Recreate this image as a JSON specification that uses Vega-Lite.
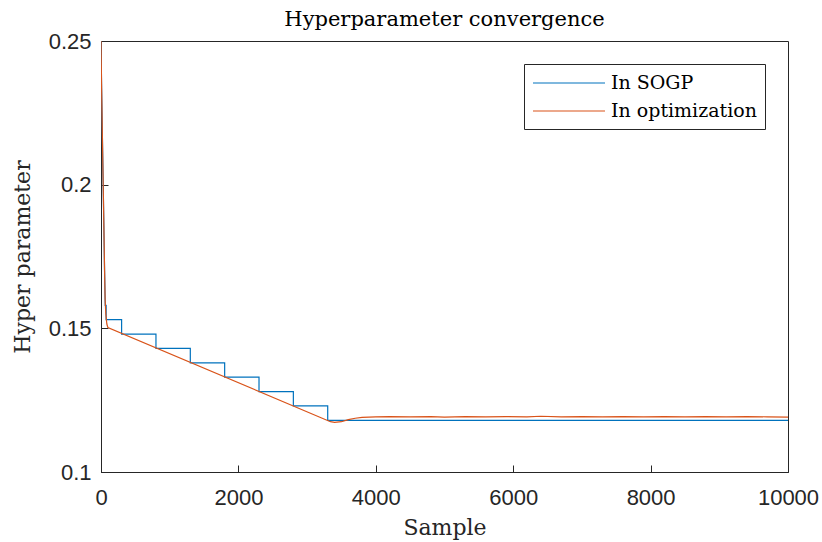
{
  "$schema": "https://vega.github.io/schema/vega-lite/v6.json",
  "width": 687,
  "height": 431,
  "autosize": {"type": "none"},
  "padding": {"left": 101, "top": 41, "right": 34, "bottom": 70},
  "background": "white",
  "title": {
    "text": "Hyperparameter convergence",
    "font": "DejaVu Serif",
    "fontSize": 21,
    "fontWeight": "normal",
    "color": "#000000",
    "anchor": "middle",
    "offset": 0
  },
  "data": {
    "values": [
      {"series": "In SOGP", "i": 0, "sample": 0, "value": 0.25},
      {"series": "In SOGP", "i": 1, "sample": 8, "value": 0.235},
      {"series": "In SOGP", "i": 2, "sample": 18, "value": 0.22},
      {"series": "In SOGP", "i": 3, "sample": 32, "value": 0.2},
      {"series": "In SOGP", "i": 4, "sample": 42, "value": 0.185},
      {"series": "In SOGP", "i": 5, "sample": 52, "value": 0.17},
      {"series": "In SOGP", "i": 6, "sample": 60, "value": 0.16},
      {"series": "In SOGP", "i": 7, "sample": 62, "value": 0.158},
      {"series": "In SOGP", "i": 8, "sample": 75, "value": 0.158},
      {"series": "In SOGP", "i": 9, "sample": 75, "value": 0.153},
      {"series": "In SOGP", "i": 10, "sample": 300, "value": 0.153},
      {"series": "In SOGP", "i": 11, "sample": 300, "value": 0.148},
      {"series": "In SOGP", "i": 12, "sample": 800, "value": 0.148},
      {"series": "In SOGP", "i": 13, "sample": 800, "value": 0.143},
      {"series": "In SOGP", "i": 14, "sample": 1300, "value": 0.143},
      {"series": "In SOGP", "i": 15, "sample": 1300, "value": 0.138},
      {"series": "In SOGP", "i": 16, "sample": 1800, "value": 0.138},
      {"series": "In SOGP", "i": 17, "sample": 1800, "value": 0.133},
      {"series": "In SOGP", "i": 18, "sample": 2300, "value": 0.133},
      {"series": "In SOGP", "i": 19, "sample": 2300, "value": 0.128},
      {"series": "In SOGP", "i": 20, "sample": 2800, "value": 0.128},
      {"series": "In SOGP", "i": 21, "sample": 2800, "value": 0.123},
      {"series": "In SOGP", "i": 22, "sample": 3300, "value": 0.123},
      {"series": "In SOGP", "i": 23, "sample": 3300, "value": 0.118},
      {"series": "In SOGP", "i": 24, "sample": 10000, "value": 0.118},

      {"series": "In optimization", "i": 0, "sample": 0, "value": 0.25},
      {"series": "In optimization", "i": 1, "sample": 8, "value": 0.235},
      {"series": "In optimization", "i": 2, "sample": 18, "value": 0.22},
      {"series": "In optimization", "i": 3, "sample": 32, "value": 0.2},
      {"series": "In optimization", "i": 4, "sample": 42, "value": 0.185},
      {"series": "In optimization", "i": 5, "sample": 52, "value": 0.17},
      {"series": "In optimization", "i": 6, "sample": 60, "value": 0.16},
      {"series": "In optimization", "i": 7, "sample": 70, "value": 0.155},
      {"series": "In optimization", "i": 8, "sample": 85, "value": 0.1515},
      {"series": "In optimization", "i": 9, "sample": 100, "value": 0.1503},
      {"series": "In optimization", "i": 10, "sample": 3340, "value": 0.1175},
      {"series": "In optimization", "i": 11, "sample": 3400, "value": 0.1173},
      {"series": "In optimization", "i": 12, "sample": 3500, "value": 0.1175},
      {"series": "In optimization", "i": 13, "sample": 3600, "value": 0.1182},
      {"series": "In optimization", "i": 14, "sample": 3700, "value": 0.1187},
      {"series": "In optimization", "i": 15, "sample": 3800, "value": 0.119},
      {"series": "In optimization", "i": 16, "sample": 3900, "value": 0.1191},
      {"series": "In optimization", "i": 17, "sample": 4000, "value": 0.1192},
      {"series": "In optimization", "i": 18, "sample": 4200, "value": 0.1193},
      {"series": "In optimization", "i": 19, "sample": 4500, "value": 0.1192},
      {"series": "In optimization", "i": 20, "sample": 4800, "value": 0.1193},
      {"series": "In optimization", "i": 21, "sample": 5000, "value": 0.1191},
      {"series": "In optimization", "i": 22, "sample": 5300, "value": 0.1193},
      {"series": "In optimization", "i": 23, "sample": 5600, "value": 0.1192},
      {"series": "In optimization", "i": 24, "sample": 5900, "value": 0.1193},
      {"series": "In optimization", "i": 25, "sample": 6200, "value": 0.1192},
      {"series": "In optimization", "i": 26, "sample": 6400, "value": 0.1194},
      {"series": "In optimization", "i": 27, "sample": 6700, "value": 0.1192},
      {"series": "In optimization", "i": 28, "sample": 7000, "value": 0.1193},
      {"series": "In optimization", "i": 29, "sample": 7300, "value": 0.1192},
      {"series": "In optimization", "i": 30, "sample": 7600, "value": 0.1193},
      {"series": "In optimization", "i": 31, "sample": 7900, "value": 0.1192},
      {"series": "In optimization", "i": 32, "sample": 8200, "value": 0.1193},
      {"series": "In optimization", "i": 33, "sample": 8500, "value": 0.1192},
      {"series": "In optimization", "i": 34, "sample": 8800, "value": 0.1193},
      {"series": "In optimization", "i": 35, "sample": 9100, "value": 0.1192},
      {"series": "In optimization", "i": 36, "sample": 9400, "value": 0.1193},
      {"series": "In optimization", "i": 37, "sample": 9700, "value": 0.1192},
      {"series": "In optimization", "i": 38, "sample": 10000, "value": 0.1191}
    ]
  },
  "mark": {"type": "line", "strokeWidth": 1.2, "clip": true},
  "encoding": {
    "x": {
      "field": "sample",
      "type": "quantitative",
      "scale": {"domain": [0, 10000], "nice": false, "zero": false},
      "axis": {
        "title": "Sample",
        "values": [0, 2000, 4000, 6000, 8000, 10000],
        "format": "d",
        "labelPadding": 22,
        "titlePadding": 9
      }
    },
    "y": {
      "field": "value",
      "type": "quantitative",
      "scale": {"domain": [0.1, 0.25], "nice": false, "zero": false},
      "axis": {
        "title": "Hyper parameter",
        "values": [0.1, 0.15, 0.2, 0.25],
        "format": ".2~f",
        "labelPadding": 17,
        "titlePadding": 14
      }
    },
    "color": {
      "field": "series",
      "type": "nominal",
      "scale": {"domain": ["In SOGP", "In optimization"], "range": ["#0072BD", "#D95319"]},
      "legend": {"title": null}
    },
    "order": {"field": "i", "type": "quantitative"}
  },
  "config": {
    "view": {"stroke": "#262626", "strokeWidth": 1},
    "axis": {
      "grid": false,
      "domainColor": "#262626",
      "domainWidth": 1,
      "tickColor": "#262626",
      "tickSize": -7,
      "tickWidth": 1,
      "labelFlush": false,
      "labelFont": "Liberation Sans",
      "labelFontSize": 22,
      "labelColor": "#262626",
      "titleFont": "DejaVu Serif",
      "titleFontSize": 22,
      "titleFontWeight": "normal",
      "titleColor": "#262626"
    },
    "legend": {
      "orient": "top-right",
      "offset": 23,
      "strokeColor": "#262626",
      "fillColor": "white",
      "padding": 8,
      "symbolType": "M-1,0H6.2",
      "symbolSize": 400,
      "symbolStrokeWidth": 1.2,
      "labelFont": "DejaVu Serif",
      "labelFontSize": 19,
      "labelColor": "#000000",
      "labelOffset": 57,
      "rowPadding": 7
    }
  }
}
